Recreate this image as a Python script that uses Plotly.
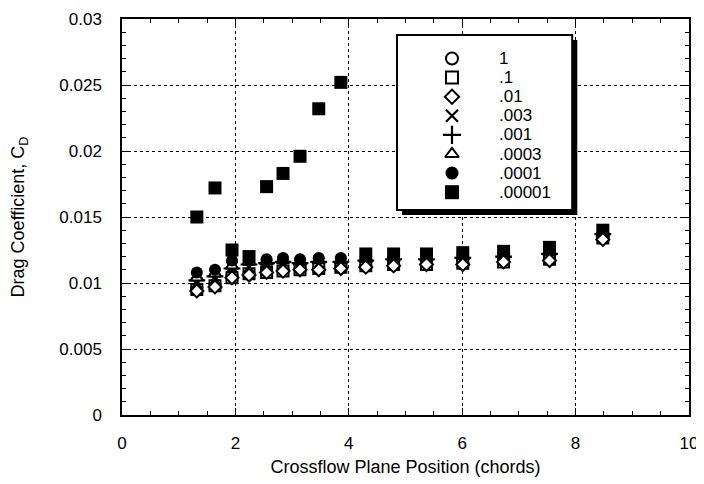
import plotly.graph_objects as go

# ---- data ----
x_pos = [1.32, 1.64, 1.94, 2.24, 2.55, 2.84, 3.14, 3.47, 3.86, 4.30, 4.79, 5.37, 6.01, 6.73, 7.54, 8.48]

cd_1 = [0.0096, 0.0099, 0.0105, 0.0107, 0.0109, 0.0110, 0.0111, 0.0111, 0.0112, 0.0113, 0.0114, 0.0115, 0.0115, 0.0117, 0.0118, 0.0134]
cd_p1 = [0.0095, 0.0098, 0.0104, 0.0107, 0.0108, 0.0109, 0.0110, 0.0111, 0.0112, 0.0113, 0.0114, 0.0114, 0.0115, 0.0116, 0.0118, 0.0134]
cd_p01 = [0.0094, 0.0097, 0.0104, 0.0106, 0.0108, 0.0109, 0.0110, 0.0110, 0.0111, 0.0112, 0.0113, 0.0114, 0.0114, 0.0116, 0.0117, 0.0133]
cd_p003 = [0.0100, 0.0103, 0.0112, 0.0112, 0.0113, 0.0114, 0.0114, 0.0115, 0.0115, 0.0116, 0.0117, 0.0117, 0.0118, 0.0119, 0.0121, 0.0136]
cd_p001 = [0.0102, 0.0105, 0.0111, 0.0114, 0.0115, 0.0116, 0.0115, 0.0116, 0.0116, 0.0117, 0.0118, 0.0118, 0.0119, 0.0120, 0.0122, 0.0137]
cd_p0003 = [0.0104, 0.0107, 0.0113, 0.0116, 0.0116, 0.0117, 0.0116, 0.0117, 0.0117, 0.0118, 0.0119, 0.0119, 0.0120, 0.0121, 0.0123, 0.0137]
cd_p0001 = [0.0108, 0.0110, 0.0117, 0.0118, 0.0118, 0.0119, 0.0118, 0.0119, 0.0119, 0.0120, 0.0120, 0.0121, 0.0121, 0.0122, 0.0125, 0.0138]
cd_p00001 = [0.0150, 0.0172, 0.0125, 0.0120, 0.0173, 0.0183, 0.0196, 0.0232, 0.0252, 0.0122, 0.0122, 0.0122, 0.0123, 0.0124, 0.0127, 0.0140]

series_names = ["1", ".1", ".01", ".003", ".001", ".0003", ".0001", ".00001"]

x_tickvals = [0, 2, 4, 6, 8, 10]
x_ticktext = ["0", "2", "4", "6", "8", "10"]
y_tickvals = [0, 0.005, 0.01, 0.015, 0.02, 0.025, 0.03]
y_ticktext = ["0", "0.005", "0.01", "0.015", "0.02", "0.025", "0.03"]

FONT = "Liberation Sans, Arial, Helvetica, sans-serif"

# marker style per series (legend order)
styles = [
    dict(symbol="circle", size=11, color="white", lw=2.0),
    dict(symbol="square", size=11, color="white", lw=2.0),
    dict(symbol="diamond", size=10, color="white", lw=2.0),
    dict(symbol="x-thin", size=11, color="black", lw=2.2),
    dict(symbol="cross-thin", size=12, color="black", lw=2.2),
    dict(symbol="triangle-up", size=11, color="white", lw=2.0),
    dict(symbol="circle", size=12, color="black", lw=0),
    dict(symbol="square", size=13, color="black", lw=0),
]
series_values = [cd_1, cd_p1, cd_p01, cd_p003, cd_p001, cd_p0003, cd_p0001, cd_p00001]

fig = go.Figure()

# drawing order: diamond last so its white face shows on top, as in the scan
draw_order = [0, 1, 3, 4, 5, 6, 7, 2]
for i in draw_order:
    s = styles[i]
    fig.add_trace(go.Scatter(
        x=x_pos, y=series_values[i], mode="markers", name=series_names[i],
        showlegend=False,
        marker=dict(symbol=s["symbol"], size=s["size"], color=s["color"],
                    line=dict(color="black", width=s["lw"])),
    ))

# ---- legend (boxed, with drop shadow) ----
fig.add_shape(type="rect", xref="x", yref="y",
              x0=4.94, x1=8.03, y0=0.01515, y1=0.02841,
              fillcolor="black", line=dict(width=0), layer="between")
fig.add_shape(type="rect", xref="x", yref="y",
              x0=4.85, x1=7.94, y0=0.01553, y1=0.02879,
              fillcolor="white", line=dict(color="black", width=2), layer="between")

leg_sym_x = 0.582
leg_txt_x = 0.661
leg_rows = [(415 - (58.5 + 19.1 * i)) / 396 for i in range(len(series_names))]
for i, name in enumerate(series_names):
    s = styles[i]
    fig.add_trace(go.Scatter(
        x=[leg_sym_x], y=[leg_rows[i]], xaxis="x2", yaxis="y2",
        mode="markers", name=name, showlegend=False, hoverinfo="skip",
        marker=dict(symbol=s["symbol"], size=s["size"] + 1,
                    color=s["color"], line=dict(color="black", width=s["lw"])),
    ))
    fig.add_annotation(x=leg_txt_x, y=leg_rows[i], xref="paper", yref="paper",
                       text=name, showarrow=False, xanchor="left", yanchor="middle",
                       font=dict(family=FONT, size=17, color="black"))

# page body has an 8px margin, so the figure is sized/margined to compensate
fig.update_layout(
    width=696, height=476,
    margin=dict(l=114, r=15, t=11, b=69),
    paper_bgcolor="white", plot_bgcolor="white",
    font=dict(family=FONT, size=17, color="black"),
    showlegend=False,
    xaxis=dict(
        range=[0, 10], tickvals=x_tickvals, ticktext=x_ticktext,
        showline=True, linecolor="black", linewidth=1.5, mirror="allticks",
        ticks="inside", ticklen=7, tickcolor="black", tickwidth=1,
        showgrid=True, gridcolor="black", gridwidth=1, griddash="dot",
        zeroline=False, automargin=False,
        minor=dict(dtick=0.5, ticks="inside", ticklen=4, tickcolor="black", showgrid=False),
        tickfont=dict(family=FONT, size=17),
        ticklabelstandoff=12,
        title=dict(text="Crossflow Plane Position (chords)", font=dict(family=FONT, size=18), standoff=8),
    ),
    yaxis=dict(
        range=[0, 0.03], tickvals=y_tickvals, ticktext=y_ticktext,
        showline=True, linecolor="black", linewidth=1.5, mirror="allticks",
        ticks="inside", ticklen=7, tickcolor="black", tickwidth=1,
        showgrid=True, gridcolor="black", gridwidth=1, griddash="dot",
        zeroline=False, automargin=False,
        minor=dict(dtick=0.001, ticks="inside", ticklen=4, tickcolor="black", showgrid=False),
        tickfont=dict(family=FONT, size=17),
        ticklabelstandoff=15,
        title=dict(text="Drag Coefficient, C<sub>D</sub>", font=dict(family=FONT, size=18), standoff=40),
    ),
    xaxis2=dict(overlaying="x", range=[0, 1], visible=False),
    yaxis2=dict(overlaying="y", range=[0, 1], visible=False),
)

fig.write_html("out.html")
